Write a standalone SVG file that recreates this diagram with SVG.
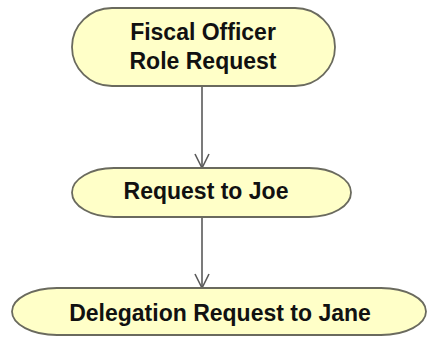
<svg xmlns="http://www.w3.org/2000/svg" width="428" height="337" viewBox="0 0 428 337">
<style>
.node{fill:#FFFFC8;stroke:#6a6a5e;stroke-width:1.8}
.lbl{font-family:"Liberation Sans",Arial,sans-serif;font-weight:bold;font-size:23px;fill:#111;text-anchor:middle}
.edge{stroke:#5a5a5a;stroke-width:1.6;fill:none}
</style>
<defs>
<marker id="arr" markerWidth="16" markerHeight="18" refX="8" refY="15" orient="0" markerUnits="userSpaceOnUse">
<path d="M1,1 L8,15 L15,1" fill="none" stroke="#5a5a5a" stroke-width="1.6"/>
</marker>
</defs>
<rect width="428" height="337" fill="#fff"/>
<g id="connectors">
<line class="edge" x1="202" y1="86" x2="202" y2="168" marker-end="url(#arr)"/>
<line class="edge" x1="202" y1="217" x2="202" y2="288" marker-end="url(#arr)"/>
</g>
<g id="n1">
<rect class="node" x="72" y="8" width="263" height="78" rx="40" ry="39"/>
<text class="lbl" x="203" y="40">Fiscal Officer</text>
<text class="lbl" x="203" y="69">Role Request</text>
</g>
<g id="n2">
<rect class="node" x="72" y="168" width="279" height="49" rx="42" ry="24.5"/>
<text class="lbl" x="206" y="199">Request to Joe</text>
</g>
<g id="n3">
<rect class="node" x="12" y="288" width="414" height="47" rx="45" ry="23.5"/>
<text class="lbl" x="220" y="321">Delegation Request to Jane</text>
</g>
</svg>
